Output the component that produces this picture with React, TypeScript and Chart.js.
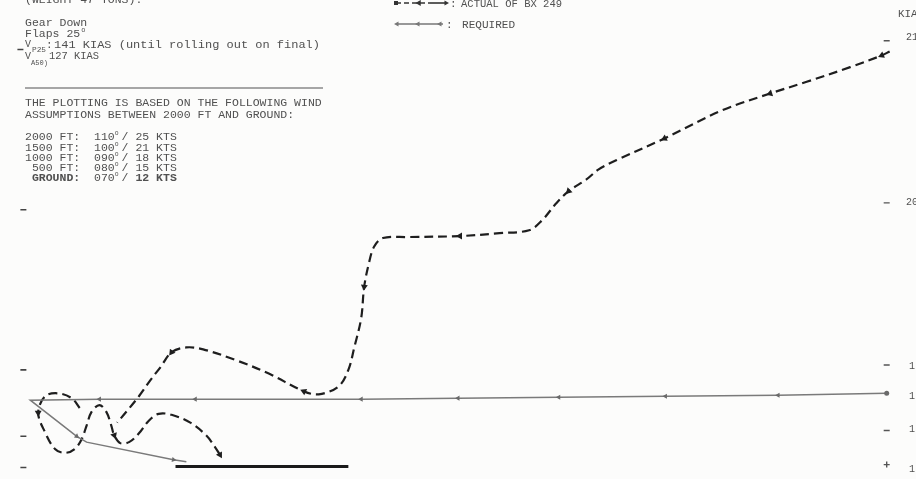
import { useEffect, useRef } from "react";
import { Chart, registerables } from "chart.js";

Chart.register(...registerables);

// ---- plot extents (chart units) ----
const X_MIN = 0;
const X_MAX = 91.6;
const Y_MIN = 0;
const Y_MAX = 47.9;

// ---- ACTUAL track of BX 249 (main part, from the far end towards the runway) ----
const actualMainX = [89.5, 88.7, 85.5, 81.1, 77.4, 72.6, 66.7, 61.9, 60.0, 58.8, 57.0, 55.7, 54.3, 53.0, 50.0, 46.0, 40.7, 38.2, 37.3, 36.8, 36.3, 36.0, 35.3, 34.7, 33.7, 31.7, 30.2, 26.7, 23.3, 20.0, 18.3, 16.8, 15.7, 14.7, 13.5, 12.3, 11.3];
const actualMainY = [43.2, 42.8, 41.6, 40.1, 38.9, 37.2, 34.3, 32.1, 31.1, 30.1, 28.9, 27.6, 25.9, 24.9, 24.6, 24.3, 24.2, 24.1, 23.2, 21.6, 19.1, 15.9, 12.9, 10.6, 8.9, 8.1, 8.4, 10.2, 11.6, 12.7, 12.9, 12.4, 10.9, 9.6, 7.9, 6.4, 5.2];
const actualMainArrowIdx = [1, 4, 6, 10, 15, 20, 26, 31];
const actualMainArrowRot = [248, 252, 244, 225, 270, 185, 295, 216];

// ---- ACTUAL track, final S-turns near the threshold ----
const actualLoopX = [7.5, 6.7, 5.3, 4.0, 3.3, 4.0, 5.0, 6.0, 7.0, 7.7, 8.2, 8.7, 9.5, 10.2, 10.7, 11.0, 11.6, 12.5, 13.5, 14.5, 15.5, 16.8, 18.7, 20.3, 21.2, 21.7];
const actualLoopY = [6.7, 7.7, 8.2, 7.9, 6.2, 4.2, 2.5, 2.1, 2.5, 3.5, 4.9, 6.3, 7.0, 6.3, 4.9, 3.9, 3.1, 3.2, 4.1, 5.4, 6.1, 6.0, 5.2, 3.9, 2.7, 1.9];
const actualLoopArrowIdx = [4, 15, 25];
const actualLoopArrowRot = [180, 160, 150];

// ---- REQUIRED track ----
const requiredX = [89.2, 78.2, 66.8, 56.0, 45.8, 36.0, 19.2, 9.5, 2.5, 7.2, 8.2, 17.0, 18.3];
const requiredY = [8.2, 8.0, 7.9, 7.8, 7.7, 7.6, 7.6, 7.6, 7.5, 3.8, 3.2, 1.4, 1.2];
const requiredMarkRot = [0, 270, 270, 270, 270, 270, 270, 270, null, 128, null, 101, null];

// ---- runway ----
const runwayX = [17.2, 34.7];
const runwayY = [0.7, 0.7];

// ---- scale ticks at the edges ----
const leftTickX = [1.5, 1.8, 1.8, 1.8, 1.8];
const leftTickY = [43.4, 27.0, 10.6, 3.8, 0.6];
const rightTickX = [89.2, 89.2, 89.2, 89.2, 89.2];
const rightTickY = [44.3, 27.7, 11.1, 4.4, 0.9];
const rightTickStyle = ["line", "line", "line", "line", "cross"];

// ---- texts ----
const windAlt = ["2000 FT:", "1500 FT:", "1000 FT:", " 500 FT:", " GROUND:"];
const windDir = ["110", "100", "090", "080", "070"];
const windSpd = ["25 KTS", "21 KTS", "18 KTS", "15 KTS", "12 KTS"];
const rightLabels = ["21", "20", "1", "1", "1", "1"];

const FONT = '"Liberation Mono", "DejaVu Sans Mono", monospace';
const TEXT = "#505050";
const PITCH = 6.9;
const X0 = 25;

function pts(xs: number[], ys: number[]) {
  return xs.map((x, i) => ({ x, y: ys[i] }));
}

function rotMap(n: number, idx: number[], rot: number[]) {
  const a: (number | null)[] = new Array(n).fill(null);
  idx.forEach((k, i) => (a[k] = rot[i]));
  return a;
}

function txt(
  ctx: CanvasRenderingContext2D,
  s: string,
  x: number,
  y: number,
  size: number,
  width?: number,
  bold = false,
  color = TEXT
) {
  ctx.save();
  ctx.font = `${bold ? "bold " : ""}${size}px ${FONT}`;
  ctx.fillStyle = color;
  ctx.textBaseline = "alphabetic";
  const w = ctx.measureText(s).width;
  ctx.translate(x, y);
  if (width && w > 0) ctx.scale(width / w, 1);
  ctx.fillText(s, 0, 0);
  ctx.restore();
}

// typewriter text on a fixed pitch grid
function mono(ctx: CanvasRenderingContext2D, s: string, col: number, y: number, bold = false) {
  txt(ctx, s, X0 + col * PITCH, y, 11, s.length * PITCH, bold);
}

function tri(ctx: CanvasRenderingContext2D, x: number, y: number, r: number, rotDeg: number, color: string) {
  const a = (rotDeg * Math.PI) / 180;
  ctx.save();
  ctx.fillStyle = color;
  ctx.beginPath();
  for (let k = 0; k < 3; k++) {
    const b = a + (k * 2 * Math.PI) / 3;
    const px = x + Math.sin(b) * r;
    const py = y - Math.cos(b) * r;
    if (k === 0) ctx.moveTo(px, py);
    else ctx.lineTo(px, py);
  }
  ctx.closePath();
  ctx.fill();
  ctx.restore();
}

const annotPlugin = {
  id: "annot",
  beforeDraw(chart: any) {
    const ctx = chart.ctx as CanvasRenderingContext2D;
    ctx.save();
    ctx.fillStyle = "#fcfcfb";
    ctx.fillRect(0, 0, chart.width, chart.height);
    ctx.restore();
  },
  afterDatasetsDraw(chart: any) {
    const ctx = chart.ctx as CanvasRenderingContext2D;

    // top-left notes
    mono(ctx, "(WEIGHT 47 TONS).", 0, 3);
    mono(ctx, "Gear Down", 0, 26);
    mono(ctx, "Flaps 25", 0, 37);
    txt(ctx, "o", X0 + 8 * PITCH + 1, 32, 7);
    txt(ctx, "V", X0, 47, 11, 6);
    txt(ctx, "P25", 32, 52, 8, 14);
    txt(ctx, ":", 46, 48, 11);
    txt(ctx, "141 KIAS (until rolling out on final)", 54, 48, 11, 266);
    txt(ctx, "V", X0, 59, 11, 6);
    txt(ctx, "A50)", 31, 65, 8, 17);
    txt(ctx, "127 KIAS", 49, 59, 11, 50);

    ctx.save();
    ctx.strokeStyle = "#8a8a8a";
    ctx.lineWidth = 1.5;
    ctx.beginPath();
    ctx.moveTo(25, 88);
    ctx.lineTo(323, 88);
    ctx.stroke();
    ctx.restore();

    mono(ctx, "THE PLOTTING IS BASED ON THE FOLLOWING WIND", 0, 106);
    mono(ctx, "ASSUMPTIONS BETWEEN 2000 FT AND GROUND:", 0, 118);

    const rowY = [140, 150.5, 161, 171, 181];
    windAlt.forEach((s, i) => {
      const bold = i === 4;
      const lead = s.length - s.trimStart().length;
      mono(ctx, s.trimStart(), lead, rowY[i], bold);
      mono(ctx, windDir[i], 10, rowY[i]);
      txt(ctx, "o", X0 + 13 * PITCH, rowY[i] - 5, 6.5);
      mono(ctx, "/", 14, rowY[i]);
      mono(ctx, windSpd[i], 16, rowY[i], bold);
    });

    // legend
    ctx.save();
    ctx.strokeStyle = "#333";
    ctx.lineWidth = 1.6;
    ctx.setLineDash([5, 3]);
    ctx.beginPath();
    ctx.moveTo(396, 3);
    ctx.lineTo(430, 3);
    ctx.stroke();
    ctx.setLineDash([]);
    ctx.beginPath();
    ctx.moveTo(430, 3);
    ctx.lineTo(447, 3);
    ctx.stroke();
    ctx.restore();
    ctx.save();
    ctx.fillStyle = "#333";
    ctx.fillRect(394, 1, 4, 4);
    ctx.restore();
    tri(ctx, 419, 3, 3.5, 270, "#333");
    tri(ctx, 446, 3, 3, 90, "#333");
    txt(ctx, ":", 450, 7, 11);
    txt(ctx, "ACTUAL OF BX 249", 461, 7, 11, 101);

    ctx.save();
    ctx.strokeStyle = "#777";
    ctx.lineWidth = 1.3;
    ctx.beginPath();
    ctx.moveTo(396, 24);
    ctx.lineTo(443, 24);
    ctx.stroke();
    ctx.restore();
    tri(ctx, 397, 24, 3, 270, "#777");
    tri(ctx, 418, 24, 3, 270, "#777");
    tri(ctx, 440, 24, 3, 270, "#777");
    txt(ctx, ":", 446, 28, 11);
    txt(ctx, "REQUIRED", 462, 28, 11, 53);

    // right edge labels (cut by the page edge)
    txt(ctx, "KIAS", 898, 17, 10, 26);
    const rlY = [40, 205, 369, 399, 432, 472];
    const rlX = [906, 906, 909, 909, 909, 909];
    rightLabels.forEach((s, i) => txt(ctx, s, rlX[i], rlY[i], 10));
  },
};

export default function App() {
  const ref = useRef<HTMLCanvasElement | null>(null);

  useEffect(() => {
    if (!ref.current) return;
    const mainRot = rotMap(actualMainX.length, actualMainArrowIdx, actualMainArrowRot);
    const loopRot = rotMap(actualLoopX.length, actualLoopArrowIdx, actualLoopArrowRot);

    const actualStyle = {
      showLine: true,
      borderColor: "#1e1e1e",
      borderWidth: 2.2,
      borderDash: [9, 5],
      tension: 0.35,
      pointStyle: "triangle",
      pointBackgroundColor: "#1e1e1e",
      pointBorderWidth: 0,
      pointBorderColor: "#1e1e1e",
    };

    const chart = new Chart(ref.current, {
      type: "scatter",
      data: {
        datasets: [
          {
            label: "REQUIRED",
            data: pts(requiredX, requiredY),
            showLine: true,
            borderColor: "#7a7a7a",
            borderWidth: 1.5,
            tension: 0,
            pointStyle: requiredMarkRot.map((r, i) => (i === 0 ? "circle" : "triangle")) as any,
            pointRadius: requiredMarkRot.map((r, i) => (r === null ? 0 : i === 0 ? 2.5 : 3)) as any,
            pointRotation: requiredMarkRot.map((r) => (r === null ? 0 : r)) as any,
            pointBackgroundColor: "#6a6a6a",
            pointBorderWidth: 0,
          },
          {
            label: "RUNWAY",
            data: pts(runwayX, runwayY),
            showLine: true,
            borderColor: "#1a1a1a",
            borderWidth: 3,
            pointRadius: 0,
          },
          {
            label: "ACTUAL OF BX 249",
            data: pts(actualMainX, actualMainY),
            ...actualStyle,
            pointRadius: mainRot.map((r) => (r === null ? 0 : 4)) as any,
            pointRotation: mainRot.map((r) => (r === null ? 0 : r)) as any,
          } as any,
          {
            label: "ACTUAL OF BX 249 (final)",
            data: pts(actualLoopX, actualLoopY),
            ...actualStyle,
            pointRadius: loopRot.map((r) => (r === null ? 0 : 4)) as any,
            pointRotation: loopRot.map((r) => (r === null ? 0 : r)) as any,
          } as any,
          {
            label: "left ticks",
            data: pts(leftTickX, leftTickY),
            showLine: false,
            pointStyle: "line",
            pointRadius: 3,
            pointBorderColor: "#444",
            pointBorderWidth: 1.6,
          },
          {
            label: "right ticks",
            data: pts(rightTickX, rightTickY),
            showLine: false,
            pointStyle: rightTickStyle as any,
            pointRadius: 3,
            pointBorderColor: "#555",
            pointBorderWidth: 1.4,
          },
        ],
      },
      options: {
        animation: false,
        responsive: false,
        maintainAspectRatio: false,
        layout: { padding: 0 },
        events: [],
        plugins: {
          legend: { display: false },
          title: { display: false },
          tooltip: { enabled: false },
        },
        scales: {
          x: { type: "linear", min: X_MIN, max: X_MAX, display: false },
          y: { type: "linear", min: Y_MIN, max: Y_MAX, display: false },
        },
      },
      plugins: [annotPlugin],
    });
    return () => chart.destroy();
  }, []);

  return (
    <div style={{ position: "absolute", left: 0, top: 0, width: 916, height: 479, overflow: "hidden" }}>
      <canvas ref={ref} width={916} height={479} style={{ display: "block", width: 916, height: 479 }} />
    </div>
  );
}
